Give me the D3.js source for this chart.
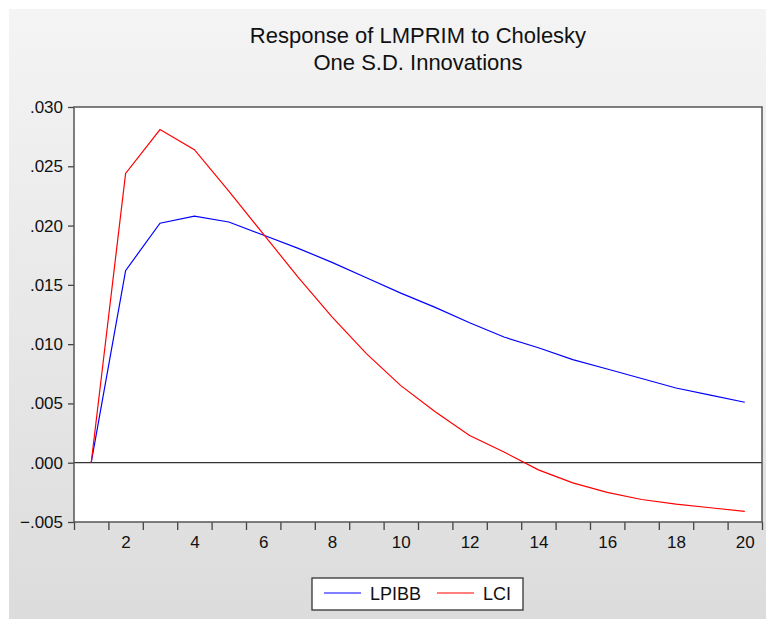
<!DOCTYPE html>
<html>
<head>
<meta charset="utf-8">
<script src="https://cdn.jsdelivr.net/npm/d3@7"></script>
<style>
  body { margin: 0; background: #fff; }
  svg { display: block; font-family: "Liberation Sans", Arial, sans-serif; }
</style>
</head>
<body>
<svg width="766" height="619"></svg>
<script>
// impulse response periods and the two series
const periods = d3.range(1, 21);
const lpibb = [0, 0.0162, 0.0202, 0.0208, 0.0203, 0.0192, 0.0181, 0.0169, 0.0156, 0.0143,
               0.0131, 0.0118, 0.0106, 0.0097, 0.0087, 0.0079, 0.0071, 0.0063, 0.0057, 0.0051];
const lci = [0, 0.0244, 0.0281, 0.0264, 0.0229, 0.0193, 0.0157, 0.0123, 0.0092, 0.0065,
             0.0043, 0.0023, 0.0009, -0.0006, -0.0017, -0.0025, -0.0031, -0.0035, -0.0038, -0.0041];
const yTicks = [-0.005, 0, 0.005, 0.010, 0.015, 0.020, 0.025, 0.030];
const xLabels = [2, 4, 6, 8, 10, 12, 14, 16, 18, 20];
const seriesNames = ['LPIBB', 'LCI'];
const seriesColors = ['#0000ff', '#ff0000'];

const svg = d3.select('svg');
const width = +svg.attr('width');
const height = +svg.attr('height');

const margin = { top: 107, right: 4, bottom: 97, left: 74 };
const innerWidth = width - margin.left - margin.right;
const innerHeight = height - margin.top - margin.bottom;

// grey gradient background
const grad = svg.append('defs').append('linearGradient')
    .attr('id', 'bg').attr('x1', 0).attr('y1', 0).attr('x2', 0).attr('y2', 1);
grad.append('stop').attr('offset', '0%').attr('stop-color', '#f4f4f4');
grad.append('stop').attr('offset', '100%').attr('stop-color', '#dcdcdc');

svg.append('rect')
    .attr('x', 9).attr('y', 9)
    .attr('width', width - 9).attr('height', height - 9)
    .attr('fill', 'url(#bg)');

const title = svg.append('text')
    .attr('text-anchor', 'middle')
    .attr('font-size', 22)
    .attr('fill', '#111');
title.append('tspan')
    .attr('x', margin.left + innerWidth / 2).attr('y', 43)
    .text('Response of LMPRIM to Cholesky');
title.append('tspan')
    .attr('x', margin.left + innerWidth / 2).attr('y', 70)
    .text('One S.D. Innovations');

const g = svg.append('g')
    .attr('transform', `translate(${margin.left},${margin.top})`);

const xscale = d3.scaleLinear()
    .domain([0.5, 20.5])
    .range([0, innerWidth]);

const yscale = d3.scaleLinear()
    .domain([-0.005, 0.030])
    .range([innerHeight, 0]);

g.append('rect')
    .attr('width', innerWidth)
    .attr('height', innerHeight)
    .attr('fill', '#fff');

const yFormat = v => d3.format('.3f')(v).replace('0.', '.');

const yAxisG = g.append('g')
    .call(d3.axisLeft(yscale).tickValues(yTicks).tickFormat(yFormat).tickSize(6).tickPadding(5));
yAxisG.selectAll('.domain').remove();

// tick marks on period boundaries
const xTickG = g.append('g')
    .attr('transform', `translate(0,${innerHeight})`)
    .call(d3.axisBottom(xscale).tickValues(d3.range(0.5, 21, 1)).tickFormat('').tickSize(8));
xTickG.selectAll('.domain').remove();
xTickG.selectAll('.tick text').remove();

const xLabelG = g.append('g')
    .attr('transform', `translate(0,${innerHeight})`)
    .call(d3.axisBottom(xscale).tickValues(xLabels).tickSize(0).tickPadding(14));
xLabelG.selectAll('.domain').remove();

svg.selectAll('.tick line').attr('stroke', '#444').attr('stroke-width', 1.3);
svg.selectAll('.tick text')
    .attr('font-size', 17)
    .attr('fill', '#111')
    .attr('font-family', '"Liberation Sans", Arial, sans-serif');

// zero line
g.append('line')
    .attr('x1', 0).attr('x2', innerWidth)
    .attr('y1', yscale(0)).attr('y2', yscale(0))
    .attr('stroke', '#333').attr('stroke-width', 1.3);

const line = d3.line()
    .x((d, i) => xscale(periods[i]))
    .y(d => yscale(d));

[lpibb, lci].forEach((s, k) => {
    g.append('path')
        .datum(s)
        .attr('fill', 'none')
        .attr('stroke', seriesColors[k])
        .attr('stroke-width', 1.2)
        .attr('d', line);
});

// frame
g.append('rect')
    .attr('width', innerWidth)
    .attr('height', innerHeight)
    .attr('fill', 'none')
    .attr('stroke', '#555')
    .attr('stroke-width', 1.5);

// legend
const legend = svg.append('g').attr('transform', 'translate(312,578)');
legend.append('rect')
    .attr('width', 211).attr('height', 32)
    .attr('fill', '#fff').attr('stroke', '#333').attr('stroke-width', 1.3);

const legendX = [12, 125];
seriesNames.forEach((name, k) => {
    legend.append('line')
        .attr('x1', legendX[k]).attr('x2', legendX[k] + 37)
        .attr('y1', 15).attr('y2', 15)
        .attr('stroke', seriesColors[k]).attr('stroke-width', 1.2);
    legend.append('text')
        .attr('x', legendX[k] + 46)
        .attr('y', 22)
        .attr('font-size', 18)
        .attr('fill', '#111')
        .text(name);
});
</script>
</body>
</html>
